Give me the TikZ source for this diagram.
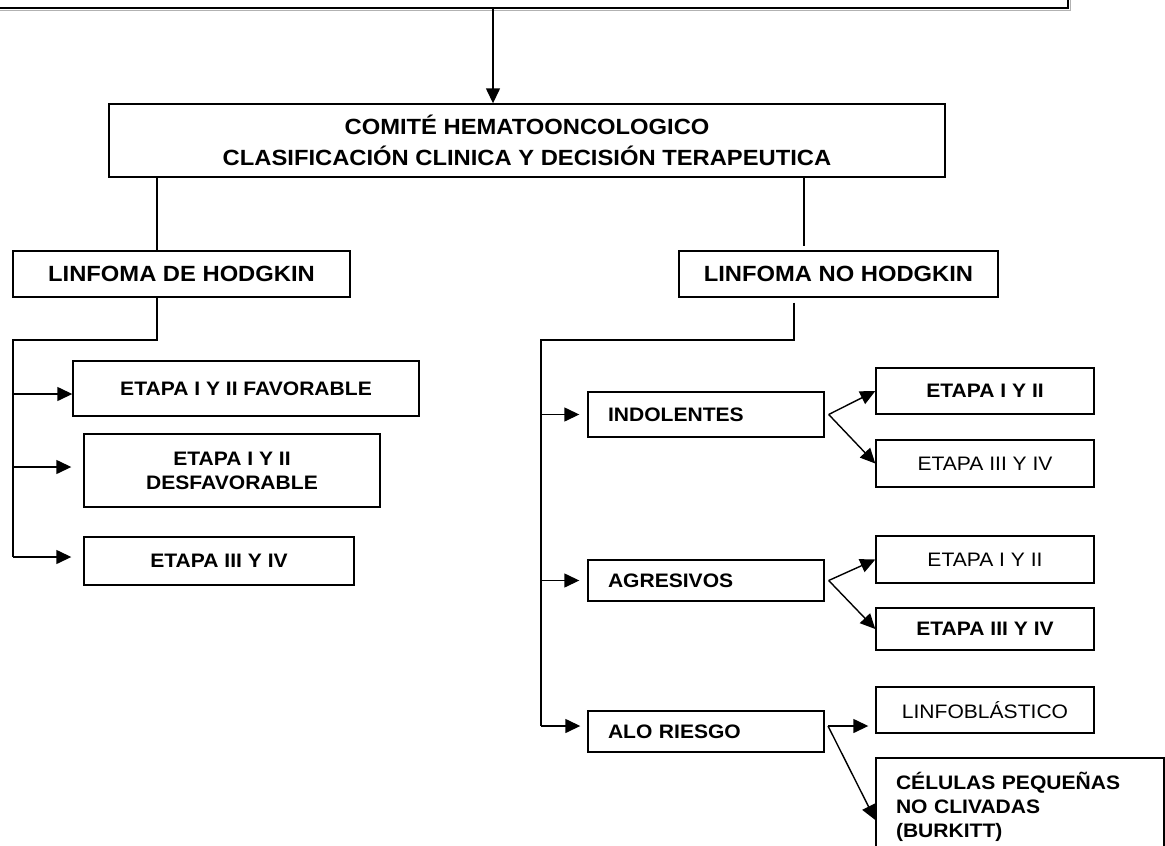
\documentclass[tikz,border=0pt]{standalone}
\usepackage{fontspec}
\setmainfont{Liberation Sans}[FakeStretch=1.08]
\usetikzlibrary{arrows.meta}
\tikzset{
  box/.style={draw, line width=1.4pt, inner sep=0pt, align=center,
    font=\fontsize{19.5}{24}\selectfont\bfseries},
  reg/.style={font=\fontsize{19.5}{24}\selectfont},
  head/.style={font=\fontsize{22}{31}\selectfont\bfseries},
  lbox/.style={box, align=left, inner xsep=20pt, text width=#1},
  link/.style={line width=1.4pt},
  arr/.style={link, -{Triangle[length=15pt,width=14pt]}},
  shade line/.style={gray!60, line width=1pt},
}
\begin{document}
\begin{tikzpicture}[x=1pt, y=-1pt]
\useasboundingbox (0,0) rectangle (1165,846);
\clip (0,0) rectangle (1165,846);

% upper box (only its lower edge is in view), with a thin shadow
\node[box, minimum width=1076pt, minimum height=96pt] (topbox) at (530,-40) {};
\draw[shade line] ([yshift=-1.8pt]topbox.south west) -- ([xshift=1.8pt,yshift=-1.8pt]topbox.south east)
  -- ([xshift=1.8pt]topbox.north east);

% committee
\node[box, head, minimum width=836pt, minimum height=73pt] (comite) at (527,140.5)
  {COMITÉ HEMATOONCOLOGICO\\CLASIFICACIÓN CLINICA Y DECISIÓN TERAPEUTICA};

% lymphoma types
\node[box, head, minimum width=337pt, minimum height=46pt] (hodg) at (181.5,274) {LINFOMA DE HODGKIN};
\node[box, head, minimum width=319pt, minimum height=46pt] (nohodg) at (838.5,274) {LINFOMA NO HODGKIN};

% Hodgkin stages
\node[box, minimum width=346pt, minimum height=55pt] (fav) at (246,388.5) {ETAPA I Y II FAVORABLE};
\node[box, minimum width=296pt, minimum height=73pt] (desf) at (232,470.5) {ETAPA I Y II\\DESFAVORABLE};
\node[box, minimum width=270pt, minimum height=48pt] (h34) at (219,561) {ETAPA III Y IV};

% non-Hodgkin groups
\node[lbox=196pt, minimum height=45pt] (indol) at (706,414.5) {INDOLENTES};
\node[lbox=196pt, minimum height=41pt] (agres) at (706,580.5) {AGRESIVOS};
\node[lbox=196pt, minimum height=41pt] (alo) at (706,731.5) {ALO RIESGO};

% non-Hodgkin stages
\node[box, minimum width=218pt, minimum height=46pt] (i12) at (985,391) {ETAPA I Y II};
\node[box, reg, minimum width=218pt, minimum height=47pt] (i34) at (985,463.5) {ETAPA III Y IV};
\node[box, reg, minimum width=218pt, minimum height=47pt] (a12) at (985,559.5) {ETAPA I Y II};
\node[box, minimum width=218pt, minimum height=42pt] (a34) at (985,629) {ETAPA III Y IV};
\node[box, reg, minimum width=218pt, minimum height=46pt] (linf) at (985,710) {LINFOBLÁSTICO};
\node[lbox=248pt, minimum height=98pt] (cel) at (1020,807)
  {CÉLULAS PEQUEÑAS\\NO CLIVADAS\\(BURKITT)};

% guide coordinates
\coordinate (tk) at (493,0);
\coordinate (hx) at (157,0);
\coordinate (nx) at (804,0);
\coordinate (nend) at (804,246);
\coordinate (nb) at (794,0);
\coordinate (L0) at (13,340);
\coordinate (L3) at (13,557);
\coordinate (R0) at (541,340);
\coordinate (R3) at (541,726);

% main flow
\draw[arr] (topbox.south -| tk) -- (comite.north -| tk);
\draw[link] (comite.south -| hx) -- (hodg.north -| hx);
\draw[link] (comite.south -| nx) -- (nend);

% Hodgkin branch
\draw[link] (hodg.south -| hx) |- (L0) -- (L3);
\draw[arr] (L0 |- 0,394) -- (fav.west |- 0,394);
\draw[arr, shorten >=12pt] (L0 |- 0,467) -- (desf.west |- 0,467);
\draw[arr, shorten >=12pt] (L3) -- (h34.west |- L3);

% non-Hodgkin branch
\draw[link] ([yshift=-5pt]nohodg.south -| nb) |- (R0) -- (R3);
\draw[arr, shorten >=8pt] (R0 |- indol.west) -- (indol.west);
\draw[arr, shorten >=8pt] (R0 |- agres.west) -- (agres.west);
\draw[arr, shorten >=7pt] (R3) -- (alo.west |- R3);

% forks to stages
\coordinate (fi) at ([xshift=4pt]indol.east);
\coordinate (fa) at ([xshift=4pt]agres.east);
\coordinate (fl) at (828,726);
\draw[arr] (fi) -- (i12.west);
\draw[arr] (fi) -- (i34.west);
\draw[arr] (fa) -- (a12.west);
\draw[arr] (fa) -- (a34.west);
\draw[arr, shorten >=7pt] (fl) -- (linf.west |- fl);
\draw[arr] (fl) -- (cel.west |- 0,820);
\end{tikzpicture}
\end{document}
